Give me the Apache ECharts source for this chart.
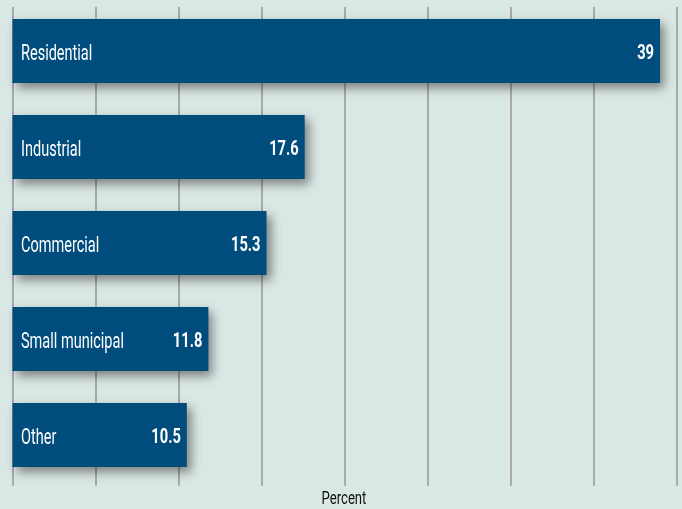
<!DOCTYPE html>
<html><head><meta charset="utf-8">
<script src="https://cdn.jsdelivr.net/npm/echarts@6/dist/echarts.min.js"></script>
<style>html,body{margin:0;padding:0;background:#dae8e5}#c{width:682px;height:509px}</style>
</head><body><div id="c"></div>
<script>
const categories = ["Residential", "Industrial", "Commercial", "Small municipal", "Other"];
const values = [39, 17.6, 15.3, 11.8, 10.5];
const axisName = "Percent";
const FONT = "Roboto, 'Liberation Sans', sans-serif";
const chart = echarts.init(document.getElementById('c'));
chart.setOption({
  backgroundColor: '#dae8e5',
  animation: false,
  grid: [
    {left: 12.5, right: 5.4, top: 7, bottom: 23.3},
    {left: 12.5, right: 5.4, top: 3, bottom: 26}
  ],
  xAxis: [
    {gridIndex: 0, type: 'value', min: 0, max: 40, interval: 5,
     axisLine: {show: false}, axisTick: {show: false}, axisLabel: {show: false},
     splitLine: {show: true, lineStyle: {color: '#a9a9a9', width: 2}}},
    {gridIndex: 1, type: 'value', min: 0, max: 40, show: false}
  ],
  yAxis: [
    {gridIndex: 0, type: 'value', show: false},
    {gridIndex: 1, type: 'category', data: categories, inverse: true, show: false}
  ],
  graphic: [{
    type: 'text', x: 344, y: 499.5, scaleX: 0.69, silent: true,
    style: {text: axisName, font: '19px ' + FONT, fill: '#111', textAlign: 'center', textVerticalAlign: 'middle'}
  }],
  series: [{
    type: 'custom', xAxisIndex: 1, yAxisIndex: 1,
    data: values.map((v, i) => [v, i]),
    encode: {x: 0, y: 1},
    renderItem: function (params, api) {
      const i = api.value(1);
      const v = api.value(0);
      const p0 = api.coord([0, i]);
      const p1 = api.coord([v, i]);
      const h = 64;
      return {
        type: 'group',
        children: [
          {type: 'rect', shape: {x: p0[0], y: p0[1] - h / 2, width: p1[0] - p0[0], height: h},
           style: {fill: '#004d7d', shadowColor: 'rgba(0,0,0,0.45)', shadowBlur: 10, shadowOffsetX: 4, shadowOffsetY: 5}},
          {type: 'text', x: p0[0] + 8.5, y: p1[1] + 3, scaleX: 0.66,
           style: {text: categories[i], font: '22px ' + FONT, fill: '#fff', textAlign: 'left', textVerticalAlign: 'middle'}},
          {type: 'text', x: p1[0] - 6, y: p1[1] + 3, scaleX: 0.7,
           style: {text: String(values[i]), font: 'bold 21px ' + FONT, fill: '#fff', textAlign: 'right', textVerticalAlign: 'middle'}}
        ]
      };
    }
  }]
});
</script></body></html>
